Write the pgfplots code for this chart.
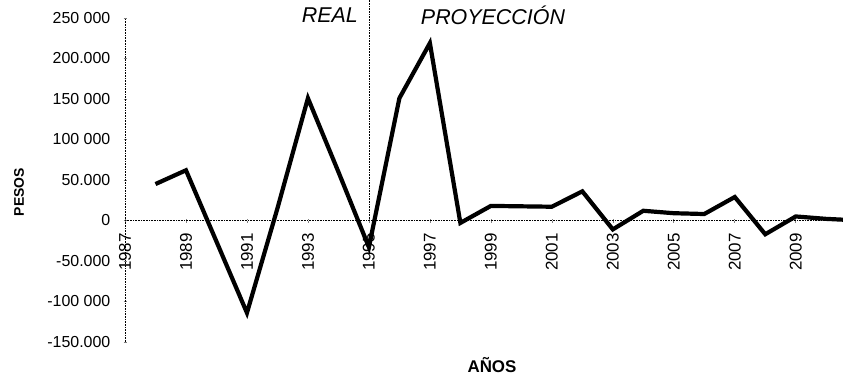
\documentclass[border=0pt]{standalone}
\usepackage{pgfplots}
\pgfplotsset{compat=1.18}
\usepackage{fontspec}
\setmainfont{Liberation Sans}
\begin{document}
\begin{tikzpicture}
\begin{axis}[
  scale only axis,
  width=718bp, height=324bp,
  xmin=1987, xmax=2010.55,
  ymin=-150000, ymax=250000,
  scaled y ticks=false, scaled x ticks=false,
  clip=false,
  axis x line=middle, axis y line=left,
  axis line style={-, densely dotted, line width=0.6bp},
  hide obscured x ticks=false, hide obscured y ticks=false,
  xtick={1987,1989,1991,1993,1995,1997,1999,2001,2003,2005,2007,2009},
  xticklabels={1987,1989,1991,1993,1995,1997,1999,2001,2003,2005,2007,2009},
  ytick={-150000,-100000,-50000,0,50000,100000,150000,200000,250000},
  yticklabels={-150.000,-100 000,-50.000,0,50.000,100 000,150 000,200.000,250 000},
  major tick length=3bp,
  tick style={densely dotted, line width=0.6bp},
  xticklabel style={rotate=90, anchor=east, font=\fontsize{17}{17}\selectfont, inner sep=0pt, xshift=-11bp},
  yticklabel style={font=\fontsize{16}{16}\selectfont, inner sep=0pt, xshift=-13bp},
]
\addplot[black, line width=4.2bp] coordinates {
(1988,45000) (1989,62000) (1990,-26000) (1991,-114000) (1992,15000)
(1993,151000) (1994,60000) (1995,-33000) (1996,151000) (1997,219000)
(1998,-3000) (1999,18000) (2000,17500) (2001,17000) (2002,36000)
(2003,-11000) (2004,12000) (2005,9000) (2006,8000) (2007,29000)
(2008,-17000) (2009,5000) (2010,2000) (2010.55,1000)
};
\draw[densely dotted, line width=0.6bp] (axis cs:1995,0) -- (axis cs:1995,272000);
\node[font=\fontsize{21.5}{21.5}\selectfont\itshape] at (axis cs:1993.72,253000) {REAL};
\node[font=\fontsize{21.5}{21.5}\selectfont\itshape] at (axis cs:1999.07,253000) {PROYECCIÓN};
\end{axis}
\node[font=\fontsize{17}{17}\selectfont\bfseries] at (367bp,-23bp) {AÑOS};
\node[font=\fontsize{14}{14}\selectfont\bfseries, rotate=90] at (-106bp,150bp) {PESOS};
\pgfresetboundingbox
\useasboundingbox (-125bp,-33bp) rectangle (718bp,342bp);
\end{tikzpicture}
\end{document}
